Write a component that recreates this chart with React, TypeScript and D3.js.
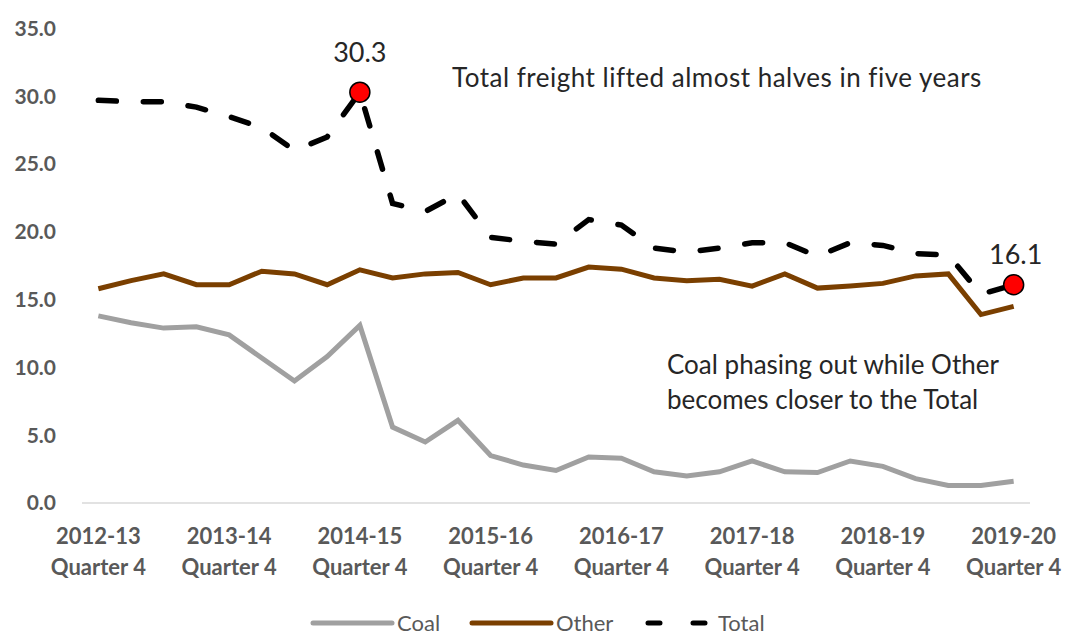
import React, { useRef, useEffect } from "react";
import * as d3 from "d3";

const quarters = [
  "2012-13 Q4",
  "2013-14 Q1", "2013-14 Q2", "2013-14 Q3", "2013-14 Q4",
  "2014-15 Q1", "2014-15 Q2", "2014-15 Q3", "2014-15 Q4",
  "2015-16 Q1", "2015-16 Q2", "2015-16 Q3", "2015-16 Q4",
  "2016-17 Q1", "2016-17 Q2", "2016-17 Q3", "2016-17 Q4",
  "2017-18 Q1", "2017-18 Q2", "2017-18 Q3", "2017-18 Q4",
  "2018-19 Q1", "2018-19 Q2", "2018-19 Q3", "2018-19 Q4",
  "2019-20 Q1", "2019-20 Q2", "2019-20 Q3", "2019-20 Q4",
];

// million tonnes
const coal = [
  13.8, 13.3, 12.9, 13.0, 12.4, 10.7, 9.0, 10.8, 13.1, 5.6, 4.5, 6.1, 3.5, 2.8, 2.4,
  3.4, 3.3, 2.3, 2.0, 2.3, 3.1, 2.3, 2.25, 3.1, 2.7, 1.8, 1.3, 1.3, 1.6,
];
const other = [
  15.8, 16.4, 16.9, 16.1, 16.1, 17.1, 16.9, 16.1, 17.2, 16.6, 16.9, 17.0, 16.1, 16.6, 16.6,
  17.4, 17.25, 16.6, 16.4, 16.5, 16.0, 16.9, 15.85, 16.0, 16.2, 16.75, 16.9, 13.9, 14.5,
];
const total = [
  29.7, 29.6, 29.6, 29.2, 28.5, 27.7, 26.0, 27.0, 30.3, 22.1, 21.5, 22.8, 19.6, 19.3, 19.1,
  20.9, 20.5, 18.8, 18.5, 18.8, 19.2, 19.2, 18.2, 19.2, 19.0, 18.4, 18.3, 15.4, 16.1,
];

const yTicks = [0, 5, 10, 15, 20, 25, 30, 35];
const labelIdx = [0, 4, 8, 12, 16, 20, 24, 28];
const highlighted = [8, 28];

const width = 1068;
const height = 636;
const font = "Lato, 'Open Sans', sans-serif";

const App = () => {
  const ref = useRef(null);

  useEffect(() => {
    const svg = d3.select(ref.current);
    svg.selectAll("*").remove();

    const x = d3.scalePoint().domain(quarters).range([82, 1030]).padding(0.5);
    const y = d3.scaleLinear().domain([0, 35]).range([503, 28.5]);

    // baseline
    svg
      .append("line")
      .attr("x1", 82)
      .attr("x2", 1030)
      .attr("y1", y(0))
      .attr("y2", y(0))
      .attr("stroke", "#d9d9d9")
      .attr("stroke-width", 1.5);

    // y labels
    svg
      .append("g")
      .selectAll("text")
      .data(yTicks)
      .enter()
      .append("text")
      .attr("x", 56)
      .attr("y", (d) => y(d))
      .attr("dy", "0.35em")
      .attr("text-anchor", "end")
      .attr("font-family", font)
      .attr("font-weight", "bold")
      .attr("font-size", 21)
      .attr("fill", "#595959")
      .text((d) => d3.format(".1f")(d));

    // x labels
    const xl = svg
      .append("g")
      .selectAll("text")
      .data(labelIdx)
      .enter()
      .append("text")
      .attr("text-anchor", "middle")
      .attr("font-family", font)
      .attr("font-weight", "bold")
      .attr("font-size", 22)
      .attr("fill", "#595959");
    xl.append("tspan")
      .attr("x", (i) => x(quarters[i]))
      .attr("y", 544)
      .text((i) => quarters[i].split(" ")[0]);
    xl.append("tspan")
      .attr("x", (i) => x(quarters[i]))
      .attr("y", 575)
      .text("Quarter 4");

    const line = d3
      .line()
      .x((d, i) => x(quarters[i]))
      .y((d) => y(d));

    svg
      .append("path")
      .datum(coal)
      .attr("d", line)
      .attr("fill", "none")
      .attr("stroke", "#a0a0a0")
      .attr("stroke-width", 5);
    svg
      .append("path")
      .datum(other)
      .attr("d", line)
      .attr("fill", "none")
      .attr("stroke", "#7a3f00")
      .attr("stroke-width", 5);
    svg
      .append("path")
      .datum(total)
      .attr("d", line)
      .attr("fill", "none")
      .attr("stroke", "#000")
      .attr("stroke-width", 5.5)
      .attr("stroke-linecap", "round")
      .attr("stroke-dasharray", "18 27");

    svg
      .selectAll(".dot")
      .data(highlighted)
      .enter()
      .append("circle")
      .attr("cx", (i) => x(quarters[i]))
      .attr("cy", (i) => y(total[i]))
      .attr("r", 10)
      .attr("fill", "#ff0000")
      .attr("stroke", "#000")
      .attr("stroke-width", 1.5);
    svg
      .selectAll(".dotlabel")
      .data(highlighted)
      .enter()
      .append("text")
      .attr("x", (i) => x(quarters[i]) + (i === 28 ? 2 : 0))
      .attr("y", (i) => y(total[i]) - (i === 28 ? 21 : 30))
      .attr("text-anchor", "middle")
      .attr("font-family", font)
      .attr("font-size", 27)
      .attr("fill", "#262626")
      .text((i) => total[i].toFixed(1));

    // annotations
    const note = svg
      .append("g")
      .attr("font-family", font)
      .attr("font-size", 26)
      .attr("fill", "#262626");
    note
      .append("text")
      .attr("x", 452)
      .attr("y", 87)
      .attr("letter-spacing", 0.5)
      .text("Total freight lifted almost halves in five years");
    note.append("text").attr("x", 667).attr("y", 374).text("Coal phasing out while Other");
    note.append("text").attr("x", 667).attr("y", 409).text("becomes closer to the Total");

    // legend
    const legend = [
      { name: "Coal", color: "#a0a0a0", dash: null, x: 313 },
      { name: "Other", color: "#7a3f00", dash: null, x: 472 },
      { name: "Total", color: "#000", dash: "12 33", x: 648 },
    ];
    const lg = svg
      .append("g")
      .selectAll("g")
      .data(legend)
      .enter()
      .append("g")
      .attr("transform", (d) => `translate(${d.x},623)`);
    lg.append("line")
      .attr("x1", 0)
      .attr("x2", (d) => (d.dash ? 60 : 79))
      .attr("stroke", (d) => d.color)
      .attr("stroke-width", 5)
      .attr("stroke-linecap", "round")
      .attr("stroke-dasharray", (d) => d.dash);
    lg.append("text")
      .attr("x", (d) => (d.dash ? 70 : 84))
      .attr("dy", "0.35em")
      .attr("font-family", font)
      .attr("font-size", 22)
      .attr("fill", "#595959")
      .text((d) => d.name);
  }, []);

  return (
    <svg
      ref={ref}
      width={width}
      height={height}
      style={{ position: "absolute", left: 0, top: 0, background: "#fff" }}
    ></svg>
  );
};

export default App;
